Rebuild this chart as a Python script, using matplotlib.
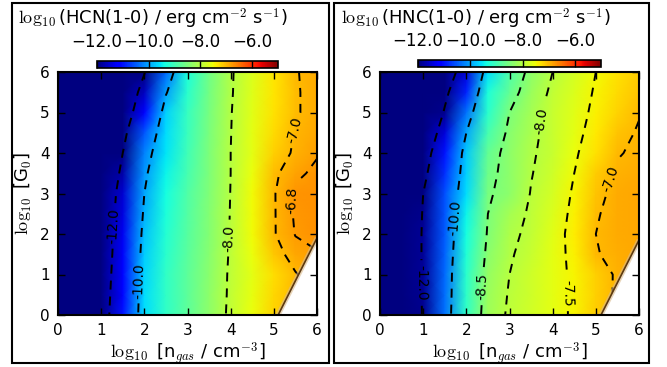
import numpy as np
import matplotlib
matplotlib.use("Agg")
import matplotlib.pyplot as plt
from matplotlib.patches import Polygon, Rectangle
from matplotlib.ticker import FuncFormatter

plt.rcParams['font.family'] = 'DejaVu Sans'
plt.rcParams['mathtext.fontset'] = 'cm'
plt.rcParams['lines.scale_dashes'] = False
plt.rcParams['lines.dashed_pattern'] = [6.5, 5.0]

# grid: log10 n_gas (columns) x log10 G0 (rows)
log_n = [0.0, 0.5, 1.0, 1.5, 2.0, 2.5, 3.0, 3.5, 4.0, 4.5, 5.0, 5.5, 6.0]
log_g0 = [0.0, 0.5, 1.0, 1.5, 2.0, 2.5, 3.0, 3.5, 4.0, 4.5, 5.0, 5.5, 6.0]

# log10 line intensity [erg cm^-2 s^-1], one row per G0
hcn = [
    [-15.5, -14.2, -12.6, -11.0, -9.6, -9.15, -8.75, -8.35, -7.9, -7.55, -7.2, -7.0, -6.9],
    [-15.5, -14.15, -12.65, -11.1, -9.62, -9.15, -8.75, -8.36, -7.92, -7.58, -7.24, -7.0, -6.88],
    [-15.5, -14.1, -12.7, -11.2, -9.65, -9.15, -8.75, -8.37, -7.93, -7.6, -7.28, -7.02, -6.85],
    [-15.5, -14.15, -12.8, -11.25, -9.72, -9.2, -8.78, -8.4, -7.95, -7.55, -7.12, -6.88, -6.82],
    [-15.5, -14.2, -12.9, -11.3, -9.8, -9.25, -8.82, -8.42, -7.97, -7.5, -7.02, -6.79, -6.72],
    [-15.5, -14.25, -13.0, -11.4, -9.9, -9.3, -8.85, -8.44, -7.98, -7.5, -7.02, -6.77, -6.7],
    [-15.5, -14.3, -13.1, -11.5, -10.0, -9.35, -8.88, -8.45, -7.99, -7.5, -7.02, -6.75, -6.7],
    [-15.5, -14.4, -13.25, -11.75, -10.1, -9.45, -8.95, -8.48, -8.0, -7.55, -7.05, -6.85, -6.75],
    [-15.5, -14.5, -13.4, -12.0, -10.25, -9.55, -9.0, -8.5, -8.0, -7.6, -7.17, -6.95, -6.82],
    [-15.5, -14.65, -13.65, -12.35, -10.55, -9.6, -9.05, -8.52, -8.01, -7.62, -7.25, -6.98, -6.86],
    [-15.5, -14.8, -13.9, -12.7, -11.2, -9.7, -9.1, -8.55, -8.02, -7.65, -7.3, -7.03, -6.9],
    [-15.5, -14.9, -14.05, -12.95, -11.6, -10.05, -9.2, -8.58, -8.04, -7.67, -7.33, -7.03, -6.9],
    [-15.5, -15.0, -14.2, -13.2, -12.05, -10.4, -9.3, -8.6, -8.05, -7.68, -7.35, -7.02, -6.9],
]
hnc = [
    [-15.5, -13.6, -11.9, -10.35, -9.15, -8.2, -7.95, -7.78, -7.62, -7.45, -7.15, -6.95, -6.85],
    [-15.5, -13.65, -11.88, -10.38, -9.18, -8.25, -7.97, -7.79, -7.62, -7.45, -7.17, -6.95, -6.86],
    [-15.5, -13.7, -11.85, -10.4, -9.2, -8.3, -8.0, -7.8, -7.62, -7.44, -7.18, -6.95, -6.88],
    [-15.5, -13.75, -11.85, -10.45, -9.27, -8.38, -8.04, -7.86, -7.62, -7.42, -7.02, -6.92, -6.87],
    [-15.5, -13.8, -11.85, -10.5, -9.35, -8.45, -8.08, -7.92, -7.63, -7.4, -7.0, -6.9, -6.86],
    [-15.5, -13.9, -11.9, -10.55, -9.45, -8.5, -8.15, -7.95, -7.68, -7.42, -7.03, -6.89, -6.86],
    [-15.5, -14.0, -12.0, -10.6, -9.6, -8.55, -8.35, -7.98, -7.75, -7.45, -7.1, -6.9, -6.88],
    [-15.5, -14.15, -12.3, -10.8, -9.68, -8.62, -8.35, -8.02, -7.8, -7.5, -7.15, -6.96, -6.9],
    [-15.5, -14.3, -12.6, -11.0, -9.75, -8.7, -8.35, -8.05, -7.85, -7.55, -7.3, -7.02, -6.95],
    [-15.5, -14.5, -13.0, -11.45, -10.0, -8.95, -8.4, -8.1, -7.85, -7.6, -7.37, -7.1, -6.97],
    [-15.5, -14.7, -13.4, -11.9, -10.35, -9.2, -8.5, -8.15, -7.85, -7.65, -7.42, -7.2, -7.02],
    [-15.5, -14.85, -13.8, -12.25, -10.9, -9.3, -8.7, -8.25, -7.92, -7.7, -7.46, -7.25, -7.1],
    [-15.5, -15.0, -14.2, -12.6, -11.45, -9.6, -8.9, -8.35, -8.0, -7.75, -7.5, -7.3, -7.15],
]

hcn_levels = [-12.0, -10.0, -8.0, -7.0, -6.8]
hnc_levels = [-12.0, -10.0, -8.5, -8.0, -7.5, -7.0]
cbar_ticks = [-12, -10, -8, -6]

# edge of the converged model region (lower right corner is empty)
hcn_edge_n, hcn_edge_g = [5.1, 6.0], [0.0, 1.9]
hnc_edge_n, hnc_edge_g = [5.12, 6.0], [0.0, 1.85]

W, H = 667, 367
fig = plt.figure(figsize=(W / 100, H / 100), dpi=100)


def fx(px):
    return px / W


def fy(py):
    return 1 - py / H


cbar_fmt = FuncFormatter(lambda v, pos: f"{v:.1f}".replace("-", "\u2212"))


def panel(left, cleft, cwidth, ctop, z, levels, edge_n, edge_g, title, title_x, lab_pos):
    ax = fig.add_axes([fx(left), fy(315), fx(259), 243 / H])
    cax = fig.add_axes([fx(cleft), fy(ctop + 7), fx(cwidth), 7 / H])

    X, Y = np.meshgrid(log_n, log_g0)
    Z = np.array(z)
    mesh = ax.pcolormesh(X, Y, Z, shading='gouraud', cmap='jet', vmin=-12, vmax=-5)
    valid = Polygon([(0, 0), (edge_n[0], edge_g[0]), (edge_n[1], edge_g[1]), (6, 6), (0, 6)],
                    closed=True, transform=ax.transData, fill=False, lw=0)
    mesh.set_clip_path(valid)

    cs = ax.contour(X, Y, Z, levels=levels, colors='k', linewidths=1.4)
    cs.set_clip_path(valid)
    ax.clabel(cs, fmt='%.1f', fontsize=10, inline=True, manual=lab_pos)

    # shaded rim along the empty corner
    ax.plot(edge_n, edge_g, color='#d9b98a', lw=3.5, alpha=0.6, solid_capstyle='butt')
    ax.plot(edge_n, edge_g, color='#5a3810', lw=1.2, solid_capstyle='butt')

    ax.set_xlim(0, 6)
    ax.set_ylim(0, 6)
    ax.set_xticks(range(7))
    ax.set_yticks(range(7))
    ax.tick_params(direction='in', top=True, right=True, length=5, width=1,
                   labelsize=11, pad=6)
    for s in ax.spines.values():
        s.set_linewidth(1.5)
    ax.set_xlabel(r'$\log_{10}$ [n$_{gas}$ / cm$^{-3}$]', fontsize=13, va='top')
    ax.xaxis.set_label_coords(0.5, -0.105)
    ax.set_ylabel(r'$\log_{10}$ [G$_0$]', fontsize=13, va='center')
    ax.yaxis.set_label_coords(-0.135, 0.5)

    cb = fig.colorbar(mesh, cax=cax, orientation='horizontal', ticks=cbar_ticks, format=cbar_fmt)
    cb.outline.set_linewidth(1.2)
    cax.xaxis.set_ticks_position('top')
    cax.xaxis.set_label_position('top')
    cax.tick_params(axis='x', direction='in', length=5, width=1, labelsize=12, pad=7,
                    top=True, bottom=False, labeltop=True, labelbottom=False)

    fig.text(fx(title_x), fy(19), title, fontsize=13, ha='left', va='center')
    return ax


panel(58, 97, 181, 61, hcn, hcn_levels, hcn_edge_n, hcn_edge_g,
      r'$\log_{10}$(HCN(1-0) / erg cm$^{-2}$ s$^{-1}$)', 18,
      [(1.3, 2.2), (1.87, 0.85), (3.95, 1.9), (5.46, 4.57), (5.38, 2.84)])
panel(380, 418, 183, 60, hnc, hnc_levels, hnc_edge_n, hnc_edge_g,
      r'$\log_{10}$(HNC(1-0) / erg cm$^{-2}$ s$^{-1}$)', 341,
      [(0.93, 0.79), (1.67, 2.4), (2.32, 0.7), (3.66, 4.8), (4.38, 0.55), (5.2, 3.4)])

# boxes around each panel
for x0, x1 in [(12, 329), (334, 649)]:
    fig.add_artist(Rectangle((fx(x0), fy(363)), fx(x1 - x0), (363 - 3) / H,
                             transform=fig.transFigure, fill=False, ec='k', lw=1.5))

fig.savefig("out.png", dpi=100)
